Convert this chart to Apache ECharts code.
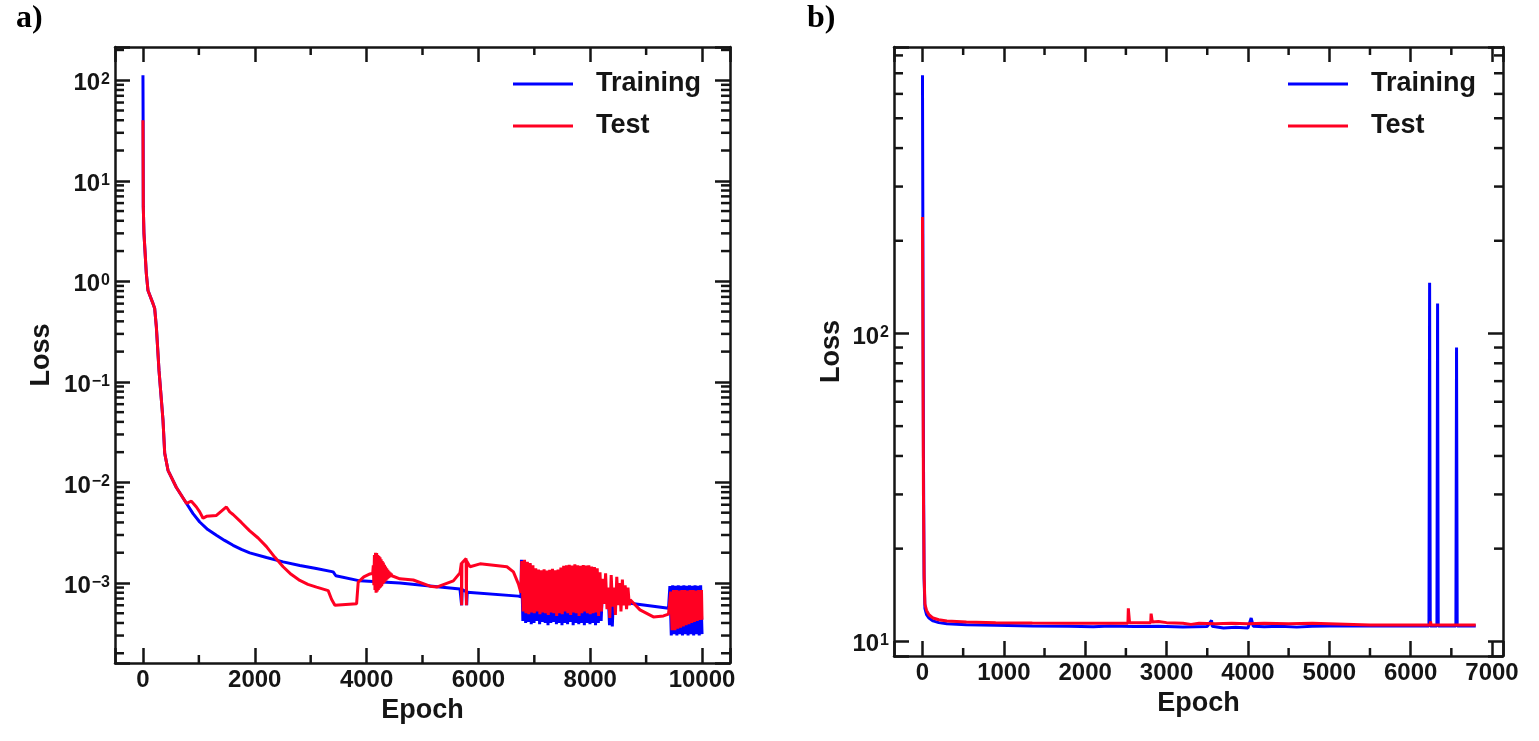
<!DOCTYPE html>
<html>
<head>
<meta charset="utf-8">
<title>Loss curves</title>
<script src="https://cdn.jsdelivr.net/npm/echarts@6.0.0/dist/echarts.min.js"></script>
<style>
html, body { margin: 0; padding: 0; background: #fff; }
#main { width: 1539px; height: 741px; }
</style>
</head>
<body>
<div id="main"></div>
<script>
// ---- panel a) data: [epoch, loss] ----
var trainHeadA = [[0,112],[3,40],[6,5.5],[18,3.0],[60,1.2],[90,0.81],[180,0.6],[209,0.54],[240,0.35],[287,0.13],[358,0.042],[389,0.0195],[448,0.0132],[598,0.0089],[777,0.0062],[896,0.0049],[1015,0.00404],[1160,0.0034],[1314,0.00298],[1460,0.00265],[1612,0.00237],[1760,0.00216],[1910,0.00199],[2209,0.00179],[2507,0.00162],[2806,0.00149],[3100,0.00139],[3402,0.00129],[3450,0.00118],[3880,0.00105],[4596,0.001],[5670,0.00087],[5690,0.00087],[5700,0.0006],[5710,0.00086],[5780,0.00082],[5790,0.0006],[5800,0.00081],[6715,0.00074],[6760,0.00073]];
var trainBandA1 = [[6770,0.0017],[6795,0.00042],[6820,0.00165],[6845,0.0004],[6870,0.0016],[6895,0.00041],[6920,0.00155],[6945,0.00039],[6970,0.0014],[6995,0.0004],[7020,0.0013],[7045,0.00042],[7070,0.00125],[7095,0.00039],[7120,0.0012],[7145,0.00041],[7170,0.00125],[7195,0.0004],[7220,0.0012],[7245,0.00038],[7270,0.00122],[7295,0.0004],[7320,0.00125],[7345,0.00041],[7370,0.0012],[7395,0.00039],[7420,0.00122],[7445,0.0004],[7470,0.00125],[7495,0.00038],[7520,0.0013],[7545,0.0004],[7570,0.00128],[7595,0.00039],[7620,0.0013],[7645,0.00041],[7670,0.00127],[7695,0.00038],[7720,0.0013],[7745,0.0004],[7770,0.00128],[7795,0.00039],[7820,0.0013],[7845,0.0004],[7870,0.00126],[7895,0.00038],[7920,0.0013],[7945,0.0004],[7970,0.00128],[7995,0.00039],[8020,0.00125],[8045,0.0004],[8070,0.00122],[8095,0.00038],[8120,0.0012],[8145,0.0004],[8170,0.0011],[8195,0.00042],[8220,0.0009],[8245,0.00062],[8270,0.00085],[8295,0.00064],[8320,0.0008],[8345,0.00038],[8370,0.0008],[8395,0.00037],[8420,0.00085],[8445,0.0006],[8470,0.0008],[8495,0.00063],[8520,0.00078],[8545,0.00062],[8570,0.0008],[8595,0.00063],[8620,0.0009],[8645,0.00064],[8660,0.00066]];
var trainMidA = [[8715,0.00063],[9400,0.00056]];
var trainBandA2 = [[9425,0.00093],[9450,0.0003],[9475,0.00095],[9500,0.00031],[9525,0.00094],[9550,0.0003],[9575,0.00095],[9600,0.00031],[9625,0.00094],[9650,0.0003],[9675,0.00095],[9700,0.00031],[9725,0.00094],[9750,0.0003],[9775,0.00095],[9800,0.00031],[9825,0.00094],[9850,0.0003],[9875,0.00095],[9900,0.00031],[9925,0.00094],[9950,0.0003],[9975,0.00095],[10000,0.00031]];

var testHeadA = [[0,40],[6,5.5],[18,3.0],[60,1.2],[90,0.81],[180,0.6],[209,0.54],[240,0.35],[287,0.13],[358,0.042],[389,0.0195],[448,0.0132],[598,0.0089],[777,0.0062],[866,0.0065],[956,0.0057],[1015,0.0051],[1075,0.0044],[1135,0.0046],[1314,0.0047],[1493,0.0057],[1552,0.0051],[1612,0.0048],[1760,0.004],[1910,0.0033],[2060,0.0028],[2209,0.0023],[2360,0.0018],[2507,0.00145],[2650,0.00122],[2806,0.00106],[2950,0.00097],[3104,0.00091],[3313,0.00084],[3373,0.00069],[3433,0.0006],[3821,0.00062],[3850,0.00102],[3950,0.00115],[4060,0.00123],[4110,0.00125]];
var testBurstA = [[4120,0.0015],[4130,0.00095],[4140,0.0019],[4150,0.00085],[4160,0.002],[4170,0.0008],[4180,0.00198],[4190,0.00082],[4200,0.0019],[4210,0.00085],[4220,0.00185],[4230,0.00088],[4240,0.0018],[4250,0.0009],[4260,0.00172],[4270,0.00093],[4280,0.00165],[4290,0.00097],[4300,0.0016],[4310,0.001],[4320,0.00152],[4330,0.00103],[4340,0.00146],[4350,0.00106],[4360,0.0014],[4370,0.00109],[4380,0.00135],[4390,0.00112],[4400,0.0013],[4410,0.00114],[4420,0.00127],[4430,0.00116],[4440,0.00124],[4450,0.00118],[4460,0.00122]];
var testMidA = [[4480,0.00119],[4596,0.0011],[4835,0.00107],[5134,0.00093],[5253,0.00091],[5552,0.00105],[5670,0.00126],[5695,0.00158],[5700,0.0006],[5705,0.00158],[5780,0.00175],[5785,0.0006],[5790,0.00165],[5850,0.00145],[6030,0.00155],[6510,0.00145],[6626,0.00129],[6715,0.00098],[6760,0.0008]];
var testBandA1 = [[6775,0.00165],[6800,0.00052],[6825,0.0017],[6850,0.0005],[6875,0.00162],[6900,0.00049],[6925,0.00158],[6950,0.00051],[6975,0.0015],[7000,0.0005],[7025,0.0014],[7050,0.00052],[7075,0.00136],[7100,0.00049],[7125,0.00134],[7150,0.00051],[7175,0.00137],[7200,0.0005],[7225,0.00133],[7250,0.00048],[7275,0.00135],[7300,0.00051],[7325,0.00138],[7350,0.0005],[7375,0.00134],[7400,0.00047],[7425,0.00136],[7450,0.0005],[7475,0.00142],[7500,0.00049],[7525,0.00148],[7550,0.00052],[7575,0.0015],[7600,0.0005],[7625,0.00152],[7650,0.00048],[7675,0.00149],[7700,0.00051],[7725,0.00153],[7750,0.0005],[7775,0.0015],[7800,0.00047],[7825,0.00148],[7850,0.0005],[7875,0.00151],[7900,0.00052],[7925,0.00149],[7950,0.0005],[7975,0.0015],[8000,0.00049],[8025,0.00146],[8050,0.0005],[8075,0.00144],[8100,0.00051],[8125,0.0014],[8150,0.00047],[8175,0.00128],[8200,0.00052],[8225,0.0011],[8250,0.00062],[8275,0.00125],[8300,0.00055],[8325,0.0009],[8350,0.00045],[8375,0.0012],[8400,0.00058],[8425,0.0009],[8450,0.00048],[8475,0.00115],[8500,0.0006],[8525,0.001],[8550,0.00052],[8575,0.00108],[8600,0.0006],[8625,0.00095],[8650,0.00055],[8675,0.0009],[8700,0.0006]];
var testTailA = [[8715,0.00068],[8890,0.00054],[9130,0.00046],[9310,0.00047],[9400,0.00049]];
var testBandA2 = [[9440,0.00082],[9465,0.00034],[9490,0.00085],[9515,0.00034],[9540,0.00085],[9565,0.00035],[9590,0.00084],[9615,0.00036],[9640,0.00085],[9665,0.00037],[9690,0.00085],[9715,0.00038],[9740,0.00084],[9765,0.00039],[9790,0.00085],[9815,0.0004],[9840,0.00085],[9865,0.00041],[9890,0.00084],[9915,0.00042],[9940,0.00085],[9965,0.00043],[9990,0.00085],[10000,0.00043]];

// ---- panel b) data: [epoch, loss] ----
var trainB = [[0,690],[12,40],[20,16],[30,12.8],[50,12.2],[80,11.9],[130,11.65],[200,11.5],[300,11.4],[540,11.32],[900,11.27],[1350,11.22],[1800,11.2],[2100,11.15],[2300,11.22],[2600,11.18],[2900,11.2],[3200,11.12],[3500,11.18],[3553,11.7],[3560,11.2],[3700,11.05],[3850,11.1],[4000,11.05],[4040,11.9],[4055,12.0],[4065,11.2],[4200,11.15],[4400,11.2],[4600,11.12],[4790,11.2],[5000,11.22],[6225,11.22],[6233,146],[6241,11.22],[6323,11.22],[6331,125],[6339,11.22],[6556,11.22],[6564,90],[6572,11.22],[6800,11.22]];
var testB = [[0,239],[12,30],[20,16.5],[30,13.2],[50,12.6],[80,12.2],[130,11.9],[200,11.75],[300,11.65],[540,11.56],[900,11.5],[1350,11.47],[1800,11.45],[2300,11.45],[2525,11.45],[2530,12.8],[2540,12.8],[2545,11.5],[2805,11.5],[2810,12.3],[2820,12.2],[2825,11.55],[2900,11.6],[3000,11.5],[3200,11.45],[3300,11.35],[3400,11.45],[3600,11.4],[3800,11.45],[4000,11.4],[4200,11.45],[4500,11.4],[4790,11.45],[4800,11.3],[5500,11.3],[6240,11.3],[6245,11.6],[6250,11.3],[6800,11.3]];

// axis ranges and tick values
var xRangeA = [-500, 10500];
var yRangeA = [1.6e-4, 214];
var xRangeB = [-350, 7135];
var yRangeB = [8.96, 852];
var xMinorA = [1000, 3000, 5000, 7000, 9000];
var xMinorB = [500, 1500, 2500, 3500, 4500, 5500, 6500];
var decadesA = [-4, -3, -2, -1, 0, 1, 2];
var decadesB = [0, 1, 2];
var mantissas = [2, 3, 4, 5, 6, 7, 8, 9];

var FONT = '"Liberation Sans", Arial, sans-serif';
var SERIF = '"Liberation Serif", "Times New Roman", serif';
var INK = '#151515';
var BLUE = '#0000ff';
var RED = '#ff0022';

function logMinors(decades, range) {
	var out = [];
	decades.forEach(function (d) {
		mantissas.forEach(function (m) {
			var v = m * Math.pow(10, d);
			if (v > range[0] * 1.02 && v < range[1]) out.push(v);
		});
	});
	return out;
}

function logLabel(value) {
	var e = Math.log(value) / Math.LN10;
	var r = Math.round(e);
	if (Math.abs(e - r) > 1e-6) return '';
	return '{b|10}{s|' + String(r).replace('-', '\u2212') + '}';
}

function xLabel(step) {
	return function (v) { return v % step === 0 ? String(v) : ''; };
}

var logRich = {
	b: { fontSize: 24, fontWeight: 'bold', fontFamily: FONT, color: INK, lineHeight: 24, verticalAlign: 'bottom' },
	s: { fontSize: 16, fontWeight: 'bold', fontFamily: FONT, color: INK, lineHeight: 16, padding: [0, 0, 15, 1], verticalAlign: 'top' }
};
var lineSt = { color: INK, width: 2.5 };
var nameSt = { fontSize: 27, fontWeight: 'bold', fontFamily: FONT, color: INK };
var tickLabel = { fontSize: 24, fontWeight: 'bold', fontFamily: FONT, color: INK };

// short minor ticks on all four sides of a grid
function minorTickItem(params, api) {
	var cs = params.coordSys;
	var p = api.coord([api.value(0), api.value(1)]);
	var st = { stroke: INK, lineWidth: 2.5 };
	if (api.value(2) === 0) {
		return { type: 'group', children: [
			{ type: 'line', shape: { x1: cs.x, y1: p[1], x2: cs.x + 9, y2: p[1] }, style: st },
			{ type: 'line', shape: { x1: cs.x + cs.width - 9, y1: p[1], x2: cs.x + cs.width, y2: p[1] }, style: st }
		] };
	}
	return { type: 'group', children: [
		{ type: 'line', shape: { x1: p[0], y1: cs.y + cs.height, x2: p[0], y2: cs.y + cs.height - 8 }, style: st },
		{ type: 'line', shape: { x1: p[0], y1: cs.y, x2: p[0], y2: cs.y + 8 }, style: st }
	] };
}

function minorData(yMinor, xMinor, yRef) {
	return yMinor.map(function (v) { return [0, v, 0]; })
		.concat(xMinor.map(function (v) { return [v, yRef, 1]; }));
}

function xAxisOf(grid, range, step, split, bottom) {
	return {
		gridIndex: grid, type: 'value', min: range[0], max: range[1], splitNumber: split,
		position: bottom ? 'bottom' : 'top',
		axisLine: { onZero: false, lineStyle: lineSt },
		axisTick: { inside: true, length: 15, lineStyle: lineSt },
		splitLine: { show: false },
		axisLabel: bottom ? Object.assign({ margin: 5, formatter: xLabel(step) }, tickLabel) : { show: false },
		name: bottom ? 'Epoch' : '', nameLocation: 'middle', nameGap: 34, nameTextStyle: nameSt
	};
}

function yAxisOf(grid, range, left, gap) {
	return {
		gridIndex: grid, type: 'log', logBase: 10, min: range[0], max: range[1],
		position: left ? 'left' : 'right',
		axisLine: { onZero: false, lineStyle: lineSt },
		axisTick: { inside: true, length: 15, lineStyle: lineSt },
		splitLine: { show: false },
		axisLabel: left ? { margin: 5, padding: [7, 0, 0, 0], formatter: logLabel, rich: logRich } : { show: false },
		name: left ? 'Loss' : '', nameLocation: 'middle', nameGap: gap, nameTextStyle: nameSt
	};
}

function legendAt(left) {
	return {
		data: ['Training', 'Test'], orient: 'vertical', left: left, top: 69, padding: 0,
		icon: 'rect', itemWidth: 60, itemHeight: 3, itemGap: 12,
		textStyle: { fontSize: 27, fontWeight: 'bold', fontFamily: FONT, color: INK, lineHeight: 30, padding: [0, 0, 0, 18] }
	};
}

function lineSeries(name, color, xi, data, z, w) {
	return {
		name: name, type: 'line', xAxisIndex: xi, yAxisIndex: xi, data: data,
		symbol: 'none', showSymbol: false, z: z,
		lineStyle: { color: color, width: w, join: 'bevel' }, itemStyle: { color: color }
	};
}

var option = {
	animation: false,
	backgroundColor: '#fff',
	title: [
		{ text: 'a)', left: 16, top: 3, padding: 0, textStyle: { fontFamily: SERIF, fontWeight: 'bold', fontSize: 32, color: '#000' } },
		{ text: 'b)', left: 807, top: 3, padding: 0, textStyle: { fontFamily: SERIF, fontWeight: 'bold', fontSize: 32, color: '#000' } }
	],
	legend: [legendAt(513), legendAt(1288)],
	grid: [
		{ left: 115, top: 47, width: 615, height: 616 },
		{ left: 894, top: 47, width: 609, height: 609 }
	],
	xAxis: [
		xAxisOf(0, xRangeA, 2000, 5, true),
		xAxisOf(0, xRangeA, 2000, 5, false),
		xAxisOf(1, xRangeB, 1000, 7, true),
		xAxisOf(1, xRangeB, 1000, 7, false)
	],
	yAxis: [
		yAxisOf(0, yRangeA, true, 60),
		yAxisOf(0, yRangeA, false, 0),
		yAxisOf(1, yRangeB, true, 49),
		yAxisOf(1, yRangeB, false, 0)
	],
	series: [
		lineSeries('Training', BLUE, 0, trainHeadA.concat(trainBandA1, trainMidA, trainBandA2), 2, 3),
		lineSeries('Test', RED, 0, testHeadA.concat(testBurstA, testMidA, testBandA1, testTailA, testBandA2), 3, 3),
		lineSeries('Training', BLUE, 2, trainB, 2, 3),
		lineSeries('Test', RED, 2, testB, 3, 3),
		{ type: 'custom', xAxisIndex: 0, yAxisIndex: 0, silent: true, z: 6, encode: { x: 0, y: 1 },
		  renderItem: minorTickItem, data: minorData(logMinors(decadesA, yRangeA), xMinorA, 1) },
		{ type: 'custom', xAxisIndex: 2, yAxisIndex: 2, silent: true, z: 6, encode: { x: 0, y: 1 },
		  renderItem: minorTickItem, data: minorData(logMinors(decadesB, yRangeB), xMinorB, 20) }
	]
};

var myChart = echarts.init(document.getElementById('main'));
myChart.setOption(option);
</script>
</body>
</html>
